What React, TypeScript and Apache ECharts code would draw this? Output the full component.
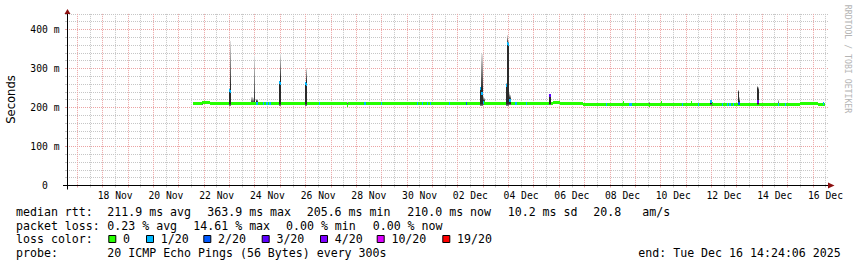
import React, { useEffect, useRef } from 'react';
import * as echarts from 'echarts';

// ---------------- data ----------------
// x values are days since 16 Nov 2025 00:00; the graph covers the 30 days ending Tue 16 Dec 14:24:06
const rangeStart = 0.6;
const rangeEnd = 30.6;
const stepDays = 1 / 24; // one consolidated sample = 1 hour

const dateLabels = ['18 Nov', '20 Nov', '22 Nov', '24 Nov', '26 Nov', '28 Nov', '30 Nov', '02 Dec', '04 Dec', '06 Dec', '08 Dec', '10 Dec', '12 Dec', '14 Dec', '16 Dec'];
const dateLabelDays = [2.5, 4.5, 6.5, 8.5, 10.5, 12.5, 14.5, 16.5, 18.5, 20.5, 22.5, 24.5, 26.5, 28.5, 30.5];

const rttTicks = [0, 100, 200, 300, 400];
const rttTickLabels = ['0\u00a0\u00a0', '100 m', '200 m', '300 m', '400 m'];
const rttMax = 440;

// loss-free median plateaus: [from day, to day, median ms]
const medianRuns: number[][] = [
  [5.55, 5.92, 210],
  [5.92, 6.24, 212],
  [6.24, 18.9, 210],
  [18.9, 19.76, 209],
  [19.76, 20.03, 214],
  [20.03, 20.94, 210],
  [20.94, 29.49, 208],
  [29.49, 30.19, 211],
  [30.19, 30.5, 208],
];

// hourly samples: [day, min, q1, median, q3, max (ms), lost pings of 20]
const pingSamples: number[][] = [
  [5.92, 209, 210, 213, 215, 217, 0],
  [6.98, 205, 208, 243, 245, 250, 1],
  [7.02, 205, 208, 241, 258, 370, 1],
  [7.85, 208, 209, 210, 212, 226, 0],
  [7.89, 208, 209, 210, 212, 226, 0],
  [7.93, 208, 209, 210, 212, 224, 0],
  [7.98, 208, 209, 211, 216, 333, 0],
  [8.06, 208, 209, 210, 216, 222, 1],
  [8.10, 208, 209, 210, 214, 222, 1],
  [8.31, 210, 210, 210, 210, 210, 1],
  [8.44, 210, 210, 210, 210, 210, 1],
  [8.49, 210, 210, 210, 210, 210, 1],
  [8.57, 210, 210, 210, 210, 210, 1],
  [8.61, 210, 210, 210, 210, 210, 1],
  [8.96, 205, 208, 263, 265, 268, 1],
  [9.00, 205, 208, 262, 276, 338, 1],
  [9.98, 205, 208, 261, 262, 264, 1],
  [10.02, 205, 208, 260, 268, 302, 1],
  [10.55, 210, 210, 210, 210, 210, 1],
  [11.62, 205, 206, 206, 209, 215, 0],
  [12.31, 211, 211, 211, 211, 211, 1],
  [12.35, 211, 211, 211, 211, 211, 1],
  [12.96, 210, 210, 210, 210, 210, 1],
  [14.38, 210, 210, 210, 210, 210, 1],
  [14.61, 210, 210, 210, 210, 210, 1],
  [14.78, 210, 210, 210, 210, 210, 1],
  [14.90, 210, 210, 210, 210, 210, 1],
  [15.64, 210, 210, 210, 210, 210, 1],
  [16.32, 210, 210, 210, 210, 210, 2],
  [16.90, 205, 208, 250, 251, 253, 1],
  [16.94, 205, 208, 237, 250, 338, 1],
  [16.98, 207, 209, 212, 216, 230, 1],
  [17.03, 209, 211, 214, 216, 225, 0],
  [17.91, 205, 208, 256, 258, 262, 1],
  [17.95, 205, 210, 364, 366, 385, 1],
  [17.99, 205, 210, 362, 364, 370, 1],
  [18.03, 207, 209, 218, 224, 236, 1],
  [18.07, 208, 209, 218, 222, 232, 1],
  [18.28, 210, 210, 210, 210, 210, 1],
  [18.68, 210, 210, 210, 210, 210, 1],
  [19.60, 206, 208, 230, 231, 232, 3],
  [19.64, 206, 208, 230, 231, 232, 3],
  [21.85, 208, 208, 208, 208, 208, 1],
  [22.50, 213, 213, 213, 213, 213, 0],
  [22.75, 208, 208, 208, 208, 208, 1],
  [22.79, 208, 208, 208, 208, 208, 1],
  [22.85, 208, 208, 208, 208, 208, 1],
  [23.56, 203, 204, 205.6, 209, 213, 0],
  [24.01, 212, 212, 212, 212, 212, 0],
  [24.86, 208, 208, 208, 208, 208, 1],
  [25.20, 212, 212, 212, 212, 212, 0],
  [25.48, 208, 208, 208, 208, 208, 1],
  [25.93, 208, 209, 215, 216, 218, 1],
  [25.97, 208, 209, 215, 216, 218, 1],
  [26.01, 206, 207, 209, 212, 214, 0],
  [26.41, 208, 208, 208, 208, 208, 1],
  [26.62, 208, 208, 208, 208, 208, 1],
  [26.70, 208, 208, 208, 208, 208, 1],
  [26.74, 208, 208, 208, 208, 208, 1],
  [26.85, 208, 208, 208, 208, 208, 1],
  [27.06, 206, 208, 211, 240, 246, 2],
  [27.10, 207, 208, 211, 213, 228, 2],
  [27.79, 206, 208, 216, 250, 255, 4],
  [27.83, 206, 208, 216, 245, 253, 4],
  [28.62, 207, 208, 208, 210, 220, 1],
  [28.90, 208, 208, 208, 208, 208, 1],
  [30.42, 210, 210, 210, 210, 210, 1],
];

const lossSteps = [0, 1, 2, 3, 4, 10, 19];
const lossLabels = ['0', '1/20', '2/20', '3/20', '4/20', '10/20', '19/20'];
const lossColors = ['#26ff00', '#00b8ff', '#0059ff', '#5e00ff', '#7e00ff', '#dd00ff', '#ff0000'];

const rttStats = ['211.9 ms avg', '363.9 ms max', '205.6 ms min', '210.0 ms now', '10.2 ms sd', '20.8', 'am/s'];
const lossStats = ['0.23 % avg', '14.61 % max', '0.00 % min', '0.00 % now'];
const rowTitles = ['median rtt:', 'packet loss:', 'loss color:', 'probe:'];
const probeText = '20 ICMP Echo Pings (56 Bytes) every 300s';
const endText = 'end: Tue Dec 16 14:24:06 2025';
const yTitle = 'Seconds';
const watermark = 'RRDTOOL / TOBI OETIKER';

// ---------------- layout / style ----------------
const W = 857;
const H = 267;
const GRID = { left: 67, right: 29, top: 13.9, bottom: 81.5 };
const MONO = '"DejaVu Sans Mono", monospace';
const SANS = '"DejaVu Sans", sans-serif';
const TXT = 11.6;
const AX = 9.7;
const MINOR = '#c6c6c6';
const MAJOR = '#eba4a4';
const ARROW = '#8b1010';
const SMOKE_DARK = '#2b2b2b';
const SMOKE_LIGHT = '#e2e2e2';
const BAND = 3;

const rowY = [212, 225.7, 239.4, 253.1];
const rttStatX = [107.3, 207.3, 306.7, 407.3, 507.7, 593.3, 642.3];
const lossStatX = [107.3, 193.3, 286, 372.7];
const legendBoxX = [108.3, 146, 203.3, 261.7, 320, 376.7, 442.3];
const endX = 638.3;

const minorX: number[] = [];
for (let d = 0.5; d < 31; d += 1) minorX.push(d);
const majorX: number[] = [];
for (let d = 1; d <= 30; d += 1) majorX.push(d);
const minorY: number[] = [];
for (let v = 20; v <= rttMax; v += 20) if (v % 100 !== 0) minorY.push(v);

const lossColor = (l: number) => lossColors[Math.max(0, lossSteps.indexOf(l))];

function renderRun(params: any, api: any) {
  const a = api.coord([api.value(0), api.value(2)]);
  const b = api.coord([api.value(1), api.value(2)]);
  const x0 = Math.round(a[0]);
  const x1 = Math.round(b[0]);
  const top = Math.round(a[1] - BAND / 2);
  return {
    type: 'rect',
    shape: { x: x0, y: top, width: Math.max(1, x1 - x0), height: BAND },
    style: { fill: lossColors[0] },
  };
}

function renderSample(params: any, api: any) {
  const d = api.value(0);
  const mn = api.value(1), q1 = api.value(2), md = api.value(3), q3 = api.value(4), mx = api.value(5);
  const loss = api.value(6);
  const x0 = Math.round(api.coord([d, 0])[0]);
  const x1 = Math.max(x0 + 1, Math.round(api.coord([d + stepDays, 0])[0]));
  const w = x1 - x0;
  const y = (v: number) => Math.round(api.coord([d, v])[1]);
  const children: any[] = [];
  if (q1 > mn) {
    children.push({
      type: 'rect',
      shape: { x: x0, y: y(q1), width: w, height: Math.max(1, y(mn) - y(q1)) },
      style: { fill: new echarts.graphic.LinearGradient(0, 0, 0, 1, [{ offset: 0, color: SMOKE_DARK }, { offset: 1, color: '#9a9a9a' }]) },
    });
  }
  if (q3 > q1) {
    children.push({
      type: 'rect',
      shape: { x: x0, y: y(q3), width: w, height: Math.max(1, y(q1) - y(q3)) },
      style: { fill: SMOKE_DARK },
    });
  }
  if (mx > q3) {
    children.push({
      type: 'rect',
      shape: { x: x0, y: y(mx), width: w, height: Math.max(1, y(q3) - y(mx)) },
      style: { fill: new echarts.graphic.LinearGradient(0, 0, 0, 1, [{ offset: 0, color: SMOKE_LIGHT }, { offset: 1, color: SMOKE_DARK }]) },
    });
  }
  const cy = api.coord([d, md])[1];
  children.push({
    type: 'rect',
    shape: { x: x0, y: Math.round(cy - BAND / 2), width: w, height: BAND },
    style: { fill: lossColor(loss) },
  });
  return { type: 'group', children };
}

function txt(text: string, x: number, y: number, extra: any = {}) {
  return {
    type: 'text',
    x,
    y,
    silent: true,
    style: { text, fill: '#000', font: `${TXT}px ${MONO}`, align: 'left', verticalAlign: 'middle', ...extra },
  };
}

export default function App() {
  const ref = useRef<HTMLDivElement>(null);

  useEffect(() => {
    document.body.style.margin = '0';
    if (!ref.current) return;
    const chart = echarts.init(ref.current, undefined, { renderer: 'svg' });

    const plotBottom = H - GRID.bottom;
    const plotRight = W - GRID.right;

    const graphic: any[] = [];
    // axes with arrows
    graphic.push({ type: 'line', silent: true, z: 50, shape: { x1: GRID.left - 4, y1: plotBottom, x2: plotRight + 2, y2: plotBottom }, style: { stroke: '#000', lineWidth: 1 } });
    graphic.push({ type: 'line', silent: true, z: 50, shape: { x1: GRID.left + 0.5, y1: plotBottom + 4, x2: GRID.left + 0.5, y2: GRID.top - 1 }, style: { stroke: '#000', lineWidth: 1 } });
    graphic.push({ type: 'polygon', silent: true, z: 51, shape: { points: [[plotRight, plotBottom - 3], [plotRight + 6.5, plotBottom], [plotRight, plotBottom + 3]] }, style: { fill: ARROW } });
    graphic.push({ type: 'polygon', silent: true, z: 51, shape: { points: [[GRID.left - 2.5, GRID.top], [GRID.left + 0.5, GRID.top - 5], [GRID.left + 3.5, GRID.top]] }, style: { fill: ARROW } });

    // y title and watermark
    graphic.push({ type: 'text', x: 11, y: 99.5, rotation: Math.PI / 2, silent: true, style: { text: yTitle, fill: '#000', font: `${TXT}px ${SANS}`, align: 'center', verticalAlign: 'middle' } });
    graphic.push({ type: 'text', x: 847.5, y: 59, rotation: -Math.PI / 2, silent: true, style: { text: watermark, fill: '#b4b4b4', font: `8.2px ${MONO}`, align: 'center', verticalAlign: 'middle' } });

    // legend block
    rowTitles.forEach((t, i) => graphic.push(txt(t, 16, rowY[i])));
    rttStats.forEach((t, i) => graphic.push(txt(t, rttStatX[i], rowY[0])));
    lossStats.forEach((t, i) => graphic.push(txt(t, lossStatX[i], rowY[1])));
    lossLabels.forEach((t, i) => {
      graphic.push({
        type: 'rect',
        silent: true,
        shape: { x: legendBoxX[i] + 0.5, y: 235.5, width: 7, height: 7 },
        style: { fill: lossColors[i], stroke: '#000', lineWidth: 1 },
      });
      graphic.push(txt(t, legendBoxX[i] + 14.7, rowY[2]));
    });
    graphic.push(txt(probeText, 107.3, rowY[3]));
    graphic.push(txt(endText, endX, rowY[3]));

    const option: any = {
      animation: false,
      backgroundColor: '#ffffff',
      grid: { ...GRID, containLabel: false, outerBoundsMode: 'none' },
      xAxis: [
        {
          type: 'value', min: rangeStart, max: rangeEnd, position: 'bottom',
          axisLine: { show: false, onZero: false },
          axisLabel: { show: false },
          axisTick: { show: true, length: 2, customValues: minorX, lineStyle: { color: MINOR } },
          splitLine: { show: true, lineStyle: { color: MINOR, width: 1, type: [1, 1] } },
        },
        {
          type: 'value', min: rangeStart, max: rangeEnd, position: 'bottom',
          axisLine: { show: false, onZero: false },
          axisTick: { show: true, length: 2, customValues: majorX, lineStyle: { color: MAJOR } },
          axisLabel: {
            show: true, customValues: dateLabelDays, interval: 0, hideOverlap: false, margin: 5,
            fontFamily: MONO, fontSize: AX, color: '#000',
            formatter: (v: number) => dateLabels[Math.round((v - dateLabelDays[0]) / 2)] ?? '',
          },
          splitLine: { show: true, lineStyle: { color: MAJOR, width: 1, type: [1, 1] } },
        },
      ],
      yAxis: [
        {
          type: 'value', min: 0, max: rttMax, position: 'left',
          axisLine: { show: false },
          axisLabel: { show: false },
          axisTick: { show: true, length: 2, customValues: minorY, lineStyle: { color: MINOR } },
          splitLine: { show: true, lineStyle: { color: MINOR, width: 1, type: [1, 1] } },
        },
        {
          type: 'value', min: 0, max: rttMax, position: 'left',
          axisLine: { show: false },
          axisTick: { show: true, length: 2, customValues: rttTicks, lineStyle: { color: MAJOR } },
          axisLabel: {
            show: true, customValues: rttTicks, margin: 7.5, fontFamily: MONO, fontSize: AX, color: '#000',
            formatter: (v: number) => rttTickLabels[rttTicks.indexOf(v)] ?? '',
          },
          splitLine: { show: true, lineStyle: { color: MAJOR, width: 1, type: [1, 1] } },
        },
      ],
      series: [
        {
          type: 'custom', xAxisIndex: 1, yAxisIndex: 1, silent: true, z: 3, clip: true,
          renderItem: renderRun, data: medianRuns,
        },
        {
          type: 'custom', xAxisIndex: 1, yAxisIndex: 1, silent: true, z: 4, clip: true,
          renderItem: renderSample, data: pingSamples,
        },
      ],
      graphic,
    };

    chart.setOption(option);
    return () => chart.dispose();
  }, []);

  return <div ref={ref} style={{ width: W, height: H }} />;
}
